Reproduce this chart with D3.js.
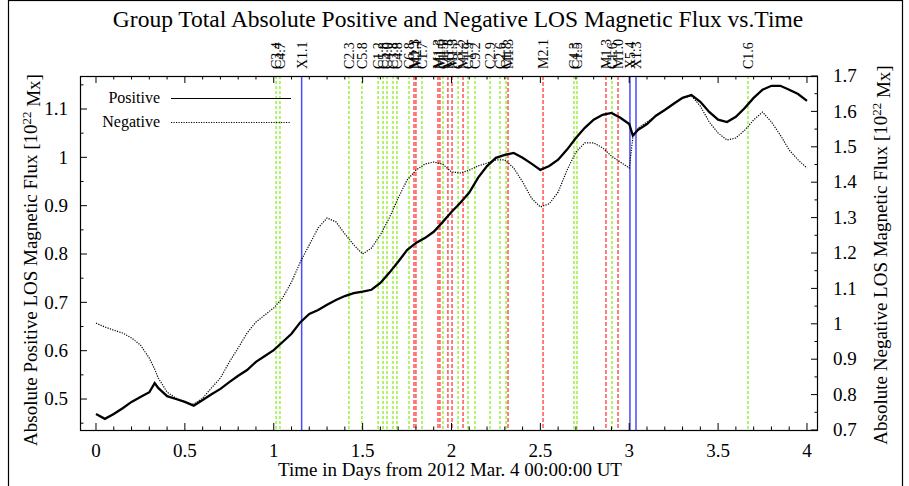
<!DOCTYPE html>
<html><head><meta charset="utf-8">
<script src="https://cdn.jsdelivr.net/npm/d3@7"></script>
<style>body{margin:0;background:#fff;} svg{display:block;font-family:"Liberation Serif","Times New Roman",serif;}</style>
</head><body>
<svg id="c" width="909" height="486"></svg>
<script>
// ---- data ----
const days = [0,0.05,0.1,0.15,0.2,0.25,0.3,0.33,0.35,0.4,0.45,0.5,0.55,0.6,0.65,0.7,0.75,0.8,0.85,0.9,0.95,
  1,1.05,1.1,1.15,1.2,1.25,1.3,1.35,1.4,1.45,1.5,1.55,1.6,1.65,1.7,1.75,1.8,1.85,1.9,1.95,
  2,2.05,2.1,2.15,2.2,2.25,2.3,2.35,2.4,2.45,2.5,2.55,2.6,2.65,2.7,2.75,2.8,2.85,2.9,2.95,
  3,3.02,3.05,3.1,3.15,3.2,3.25,3.3,3.35,3.4,3.45,3.5,3.55,3.6,3.65,3.7,3.75,3.8,3.85,3.9,3.95,4];
const positiveFlux = [0.469,0.459,0.469,0.481,0.494,0.504,0.514,0.533,0.523,0.506,0.500,0.494,0.486,0.498,0.510,0.521,0.535,0.548,0.560,0.577,0.589,
  0.601,0.618,0.635,0.659,0.676,0.684,0.695,0.705,0.713,0.719,0.722,0.726,0.740,0.761,0.784,0.808,0.823,0.833,0.846,0.866,
  0.887,0.906,0.927,0.958,0.982,0.999,1.005,1.009,0.999,0.987,0.974,0.982,0.995,1.016,1.040,1.061,1.078,1.088,1.092,1.082,
  1.069,1.045,1.057,1.069,1.086,1.098,1.111,1.123,1.129,1.115,1.094,1.078,1.073,1.084,1.102,1.123,1.140,1.148,1.148,1.140,1.131,1.117];
const negativeFlux = [1.002,0.991,0.982,0.974,0.960,0.940,0.903,0.872,0.847,0.807,0.790,0.779,0.773,0.790,0.819,0.847,0.892,0.932,0.974,1.005,1.025,
  1.045,1.073,1.118,1.175,1.223,1.271,1.299,1.288,1.254,1.223,1.197,1.214,1.251,1.299,1.355,1.406,1.434,1.451,1.457,1.451,
  1.429,1.426,1.434,1.446,1.454,1.463,1.463,1.440,1.401,1.355,1.330,1.339,1.372,1.434,1.485,1.511,1.511,1.497,1.474,1.457,
  1.440,1.525,1.553,1.570,1.587,1.604,1.621,1.638,1.644,1.615,1.570,1.539,1.519,1.525,1.547,1.576,1.598,1.570,1.533,1.491,1.463,1.440];
const flareTimes = [1.013,1.035,1.157,1.423,1.496,1.587,1.615,1.637,1.671,1.693,1.761,1.789,1.800,1.834,
  1.924,1.935,1.952,1.980,2.003,2.037,2.065,2.093,2.132,2.217,2.273,2.307,2.318,2.515,2.689,2.706,
  2.869,2.903,2.937,3.004,3.038,3.668];
const flareLabels = ["C3.4","C4.7","X1.1","C2.3","C5.8","C1.2","C5.8","C4.0","C3.8","C4.8","C6.8","M1.3","M2.1","C1.7",
  "M1.3","M1.6","C1.5","M1.8","M1.3","C3.2","M1.2","C1.9","C9.2","C2.9","C2.6","C1.8","M1.3","M2.1","C4.3","C1.5",
  "M1.3","C1.6","M1.0","X5.4","X1.3","C1.6"];
const xTicks = [0,0.5,1,1.5,2,2.5,3,3.5,4];
const xTickLabels = ["0","0.5","1","1.5","2","2.5","3","3.5","4"];
const leftTicks = [0.5,0.6,0.7,0.8,0.9,1.0,1.1];
const leftTickLabels = ["0.5","0.6","0.7","0.8","0.9","1","1.1"];
const rightTicks = [0.7,0.8,0.9,1.0,1.1,1.2,1.3,1.4,1.5,1.6,1.7];
const rightTickLabels = ["0.7","0.8","0.9","1","1.1","1.2","1.3","1.4","1.5","1.6","1.7"];
const seriesNames = ["Positive","Negative"];

// ---- layout ----
const L = 80, R = 818, T = 76, B = 430;
const svg = d3.select("#c");
const x = d3.scaleLinear().domain([-0.09, 4.062]).range([L, R]);
const yL = d3.scaleLinear().domain([0.4359, 1.1683]).range([B, T]);
const yR = d3.scaleLinear().domain([0.7, 1.7]).range([B, T]);

// outer frame
svg.append("rect").attr("x",8.5).attr("y",0.5).attr("width",894).attr("height",500)
  .attr("fill","none").attr("stroke","#000").attr("stroke-width",1.2);

// title
svg.append("text").attr("x",458).attr("y",27).attr("text-anchor","middle")
  .attr("font-size",23.5).text("Group Total Absolute Positive and Negative LOS Magnetic Flux vs.Time");

// flares
const flareColor = l => l[0]==="X" ? "#4a4aff" : (l[0]==="M" ? "#ff2a2a" : "#80ee10");
const flareDash = l => l[0]==="X" ? null : (l[0]==="M" ? "4,2" : "3,2");
const fl = svg.append("g");
flareTimes.forEach((t,i) => {
  const lab = flareLabels[i];
  fl.append("line").attr("x1",x(t)).attr("x2",x(t)).attr("y1",T).attr("y2",B)
    .attr("stroke",flareColor(lab)).attr("stroke-width",lab[0]==="X"?1.5:1.2)
    .attr("stroke-dasharray",flareDash(lab));
  fl.append("text").attr("transform",`translate(${x(t)},69) rotate(-90)`)
    .attr("dy","0.35em").attr("font-size",14).text(lab);
});

// axes frame
svg.append("rect").attr("x",L+0.5).attr("y",T+0.5).attr("width",R-L-1).attr("height",B-T)
  .attr("fill","none").attr("stroke","#000").attr("stroke-width",1.2);

// ticks (inward, mirrored)
const tk = svg.append("g").attr("stroke","#000").attr("stroke-width",1);
d3.range(0, 4.0001, 0.1).forEach(v => {
  const major = Math.abs(v*2 - Math.round(v*2)) < 1e-6;
  const len = major ? 7 : 3.5;
  tk.append("line").attr("x1",x(v)).attr("x2",x(v)).attr("y1",B).attr("y2",B-len);
  tk.append("line").attr("x1",x(v)).attr("x2",x(v)).attr("y1",T).attr("y2",T+len);
});
d3.range(0.45, 1.16, 0.05).forEach(v => {
  const major = Math.abs(v*10 - Math.round(v*10)) < 1e-6;
  tk.append("line").attr("x1",L).attr("x2",L+(major?7:3.5)).attr("y1",yL(v)).attr("y2",yL(v));
});
d3.range(0.7, 1.701, 0.05).forEach(v => {
  const major = Math.abs(v*10 - Math.round(v*10)) < 1e-6;
  tk.append("line").attr("x1",R).attr("x2",R-(major?7:3.5)).attr("y1",yR(v)).attr("y2",yR(v));
});

// tick labels
const tl = svg.append("g").attr("font-size",19);
xTicks.forEach((v,i) => tl.append("text").attr("x",x(v)).attr("y",457).attr("text-anchor","middle").text(xTickLabels[i]));
leftTicks.forEach((v,i) => tl.append("text").attr("x",68).attr("y",yL(v)).attr("dy","0.33em").attr("text-anchor","end").text(leftTickLabels[i]));
rightTicks.forEach((v,i) => tl.append("text").attr("x",833).attr("y",yR(v)).attr("dy","0.33em").attr("text-anchor","start").text(rightTickLabels[i]));

// axis titles
svg.append("text").attr("x",450).attr("y",476).attr("text-anchor","middle").attr("font-size",19)
  .text("Time in Days from 2012 Mar. 4 00:00:00 UT");
function yTitle(tx, ty, main) {
  const t = svg.append("text").attr("transform",`translate(${tx},${ty}) rotate(-90)`)
    .attr("text-anchor","middle").attr("font-size",19);
  t.append("tspan").text(main + " [10");
  t.append("tspan").attr("dy","-0.45em").attr("font-size",13).text("22");
  t.append("tspan").attr("dy","0.45em").text(" Mx]");
}
yTitle(37, 260, "Absolute Positive LOS Magnetic Flux");
yTitle(887, 255, "Absolute Negative LOS Magnetic Flux");

// data lines
const lineP = d3.line().x((d,i)=>x(days[i])).y(d=>yL(d));
const lineN = d3.line().x((d,i)=>x(days[i])).y(d=>yR(d));
svg.append("path").datum(negativeFlux).attr("d",lineN).attr("fill","none")
  .attr("stroke","#000").attr("stroke-width",1.2).attr("stroke-dasharray","1.2,1.3");
svg.append("path").datum(positiveFlux).attr("d",lineP).attr("fill","none")
  .attr("stroke","#000").attr("stroke-width",2.3);

// legend
const lg = svg.append("g").attr("font-size",16);
lg.append("text").attr("x",160).attr("y",103).attr("text-anchor","end").text(seriesNames[0]);
lg.append("line").attr("x1",171).attr("x2",291).attr("y1",98.5).attr("y2",98.5).attr("stroke","#000").attr("stroke-width",1);
lg.append("text").attr("x",160).attr("y",127).attr("text-anchor","end").text(seriesNames[1]);
lg.append("line").attr("x1",171).attr("x2",291).attr("y1",122.5).attr("y2",122.5).attr("stroke","#000").attr("stroke-width",1).attr("stroke-dasharray","1.2,1.3");
</script>
</body></html>
